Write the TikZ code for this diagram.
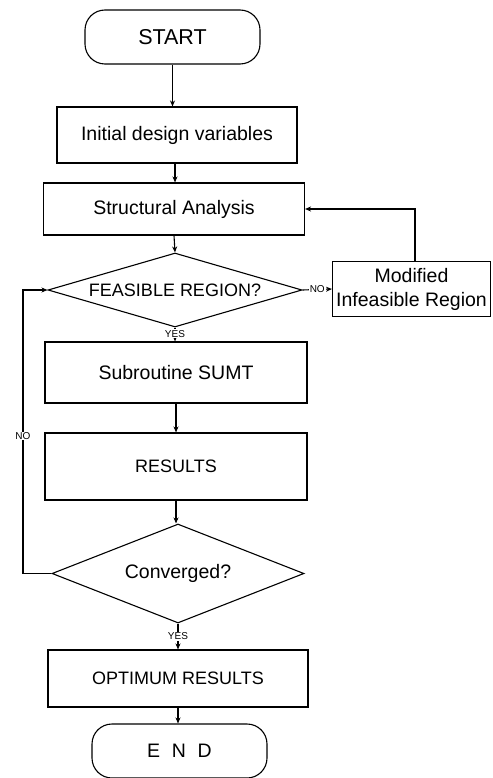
\documentclass[tikz,border=0pt]{standalone}
\usepackage{fontspec}
\setmainfont{Liberation Sans}
\usetikzlibrary{shapes.geometric,arrows.meta}
\begin{document}
\begin{tikzpicture}[x=1pt,y=-1pt,
  txt/.style={font=\fontsize{19.5}{24}\selectfont},
  caps/.style={font=\fontsize{18}{22}\selectfont},
  procbox/.style={draw,line width=1.1pt,inner sep=0pt,txt,align=center},
  termbox/.style={draw,line width=1.1pt,inner sep=0pt,rounded corners=20pt,txt},
  decbox/.style={draw,line width=1.1pt,shape=diamond,inner sep=0pt,txt},
  lbl/.style={font=\fontsize{10}{12}\selectfont,fill=white,inner sep=0.8pt},
  arr/.style={line width=1.1pt,-{Stealth[length=6pt,width=5pt]}}]
\useasboundingbox (0,0) rectangle (492,778);
\clip (0,0) rectangle (492,778);
\fill[white] (0,0) rectangle (492,778);

\node[termbox,minimum width=175pt,minimum height=54pt,font=\fontsize{21.5}{25}\selectfont] (start) at (172.5,37) {START};
\node[procbox,minimum width=240pt,minimum height=56pt] (init) at (177,135) {Initial design variables};
\node[procbox,minimum width=261pt,minimum height=52pt] (sa) at (174,209) {Structural Analysis};
\node[decbox,caps,shape aspect=3.4,minimum width=254pt,minimum height=74pt] (feas) at (175,290) {FEASIBLE REGION?};
\node[procbox,minimum width=158pt,minimum height=55pt] (mod) at (411.5,289) {Modified\\Infeasible Region};
\node[procbox,minimum width=262pt,minimum height=61pt] (sumt) at (176,372.5) {Subroutine SUMT};
\node[procbox,caps,minimum width=262pt,minimum height=67pt] (res) at (176,466.5) {RESULTS};
\node[decbox,minimum width=252pt,shape aspect=2.55,minimum height=99pt] (conv) at (178,573.5) {Converged?};
\node[procbox,caps,minimum width=260pt,minimum height=57pt] (opt) at (178,678.5) {OPTIMUM RESULTS};
\node[termbox,minimum width=175pt,minimum height=54pt] (end) at (179.5,751) {E\hspace{0.6em}N\hspace{0.6em}D};

\draw[arr] (start.south) -- (start.south |- init.north);
\draw[arr] ([xshift=-2pt]init.south) -- ([xshift=-2pt]init.south |- sa.north);
\draw[arr] (sa.south) -- (feas.north);
\draw[arr] (feas.south) -- (feas.south |- sumt.north) node[lbl,pos=0.45] (yes1) {YES};
\draw[arr] (feas.east) -- (mod.west) node[lbl,midway] (no1) {NO};
\draw[arr] ([xshift=3.5pt]mod.north) |- (sa.east);
\draw[arr] (sumt.south) -- (sumt.south |- res.north);
\draw[arr] (res.south) -- (res.south |- conv.north);
\draw[arr] (conv.south) -- (conv.south |- opt.north) node[lbl,pos=0.5] (yes2) {YES};
\draw[arr] (opt.south) -- (opt.south |- end.north);
\coordinate (loopc) at (23,573.5);
\draw[arr] (conv.west) -- (loopc) |- (feas.west);
\node[lbl] (no2) at (23,436) {NO};
\end{tikzpicture}
\end{document}
